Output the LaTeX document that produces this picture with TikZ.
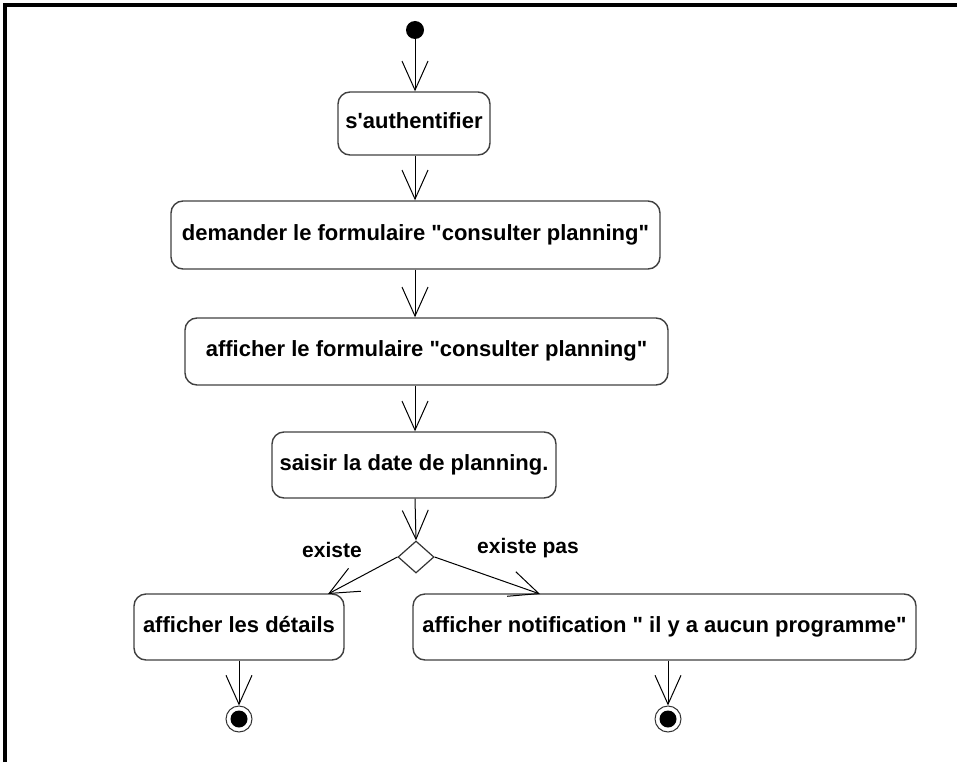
\documentclass[tikz,border=0pt]{standalone}
\usepackage{fontspec}
\setmainfont{Liberation Sans}
\usetikzlibrary{arrows.meta,shapes.geometric}

\tikzset{
  activity/.style={draw=black!75, line width=1.4pt, rounded corners=12pt,
    inner sep=0pt, font=\bfseries\fontsize{22}{26}\selectfont},
  flow/.style={line width=1pt, -{Straight Barb[length=29pt, width=26pt, line width=1pt]}},
  guard/.style={font=\bfseries\fontsize{21}{25}\selectfont, inner sep=0pt},
  initial/.style={circle, fill=black, minimum size=18pt, inner sep=0pt},
  final/.style={circle, draw=black!80, line width=1pt, minimum size=26pt, inner sep=0pt,
    path picture={\fill (path picture bounding box.center) circle (8.5pt);}},
  choice/.style={diamond, draw=black!80, line width=1.2pt, minimum width=36pt,
    minimum height=32pt, inner sep=0pt}
}
\newcommand{\acttext}[1]{\raisebox{5pt}{#1}}
\newcommand{\dq}{\textquotedbl}
\newcommand{\sq}{\textquotesingle}

\begin{document}
\begin{tikzpicture}[x=1pt, y=-1pt]
  \useasboundingbox (0,0) rectangle (957,762);
  % frame
  \draw[line width=4pt] (5,762) -- (5,5) -- (957,5);

  % nodes
  \node[initial] (start) at (415,30) {};
  \node[activity, minimum width=152pt, minimum height=63pt] (auth) at (414,123.5)
    {\acttext{s\sq authentifier}};
  \node[activity, minimum width=489pt, minimum height=68pt] (ask) at (415.5,235)
    {\acttext{demander le formulaire \dq consulter planning\dq}};
  \node[activity, minimum width=483pt, minimum height=67pt] (show) at (426.5,351.5)
    {\acttext{afficher le formulaire \dq consulter planning\dq}};
  \node[activity, minimum width=284pt, minimum height=66pt] (date) at (414,465)
    {\acttext{saisir la date de planning.}};
  \node[choice] (dec) at (416,557) {};
  \node[activity, minimum width=210pt, minimum height=66pt] (details) at (239,627)
    {\acttext{afficher les détails}};
  \node[activity, minimum width=503pt, minimum height=66pt] (notif) at (664.5,627)
    {\acttext{afficher notification \dq\ il y a aucun programme\dq}};
  \node[final] (end1) at (239,719) {};
  \node[final] (end2) at (668,719) {};

  % guards
  \node[guard] (gyes) at (332,550) {existe};
  \node[guard] (gno) at (528,548) {existe pas};

  % transitions
  \coordinate (inyes) at (328,594);
  \coordinate (inno) at (540,594);
  \draw[flow] (start) -- (auth.north -| start);
  \draw[flow] (auth.south -| start) -- (ask.north -| start);
  \draw[flow] (ask.south -| start) -- (show.north -| start);
  \draw[flow] (show.south -| start) -- (date.north -| start);
  \draw[flow] (date.south -| start) -- (dec.north);
  \draw[flow] (dec.west) -- (inyes);
  \draw[flow] (dec.east) -- (inno);
  \draw[flow] (details.south -| end1) -- (end1.north);
  \draw[flow] (notif.south -| end2) -- (end2.north);
\end{tikzpicture}
\end{document}
